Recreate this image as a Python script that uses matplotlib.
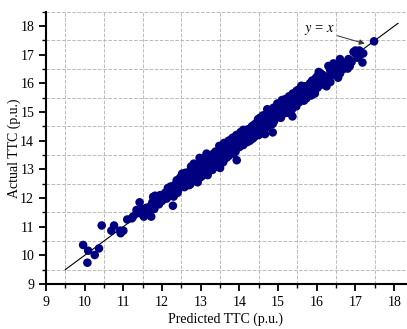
import numpy as np
import matplotlib.pyplot as plt
from matplotlib.ticker import MultipleLocator

plt.rcParams['font.family'] = ['Liberation Serif', 'DejaVu Serif']
plt.rcParams['mathtext.fontset'] = 'stix'

# predicted / actual TTC (p.u.)
pred = [9.96, 10.09, 10.07, 10.26, 10.37, 10.44, 10.69, 10.76, 10.92, 10.93, 11.0,
        11.22, 11.34, 11.42, 11.34, 11.53, 11.72, 11.77, 12.28, 12.97, 13.93, 14.66,
        14.86, 15.37, 17.18, 17.48, 17.0, 16.8, 16.55, 16.3,
        11.1, 11.25, 11.4, 11.45, 11.5, 11.55, 11.6, 11.65, 11.7, 11.75, 11.8, 11.82,
        11.88, 11.92, 11.95, 12.0, 12.02, 12.08, 12.12, 12.15, 12.2, 12.22, 12.25,
        12.3, 12.32, 12.35, 12.38, 12.42, 12.45, 12.48, 12.5, 12.52, 12.55, 12.58, 12.6,
        12.62, 12.65, 12.68, 12.7, 12.72, 12.75, 12.78, 12.8, 12.82, 12.85, 12.88,
        12.9, 12.92, 12.95, 12.98, 13.0, 13.02, 13.05, 13.08, 13.1, 13.12, 13.15,
        13.18, 13.2, 13.22, 13.25, 13.28, 13.3, 13.32, 13.35, 13.38, 13.4, 13.42,
        13.45, 13.48, 13.5, 13.52, 13.55, 13.58, 13.6, 13.62, 13.65, 13.68, 13.7,
        13.72, 13.75, 13.78, 13.8, 13.82, 13.85, 13.88, 13.9, 13.92, 13.95, 13.98,
        14.0, 14.02, 14.05, 14.08, 14.1, 14.12, 14.15, 14.18, 14.2, 14.22, 14.25,
        14.28, 14.3, 14.32, 14.35, 14.38, 14.4, 14.42, 14.45, 14.48, 14.5, 14.52,
        14.55, 14.58, 14.6, 14.62, 14.65, 14.68, 14.7, 14.72, 14.75, 14.78, 14.8,
        14.82, 14.85, 14.88, 14.9, 14.92, 14.95, 14.98, 15.0, 15.02, 15.05, 15.08,
        15.1, 15.12, 15.15, 15.18, 15.2, 15.22, 15.25, 15.28, 15.3, 15.32, 15.35,
        15.38, 15.4, 15.42, 15.45, 15.48, 15.5, 15.52, 15.55, 15.58, 15.6, 15.62,
        15.65, 15.7, 15.72, 15.75, 15.8, 15.82, 15.85, 15.88, 15.9, 15.95, 15.98,
        16.0, 16.02, 16.05, 16.08, 16.1, 16.15, 16.18, 16.2, 16.25, 16.3, 16.35,
        16.4, 16.45, 16.5, 16.55, 16.6, 16.62, 16.68, 16.72, 16.78, 16.82, 16.85,
        16.9, 16.95, 17.02, 17.05, 17.1, 17.12, 17.2,
        13.33, 13.47, 13.57, 13.63, 13.77, 13.87, 13.97, 14.07, 14.17, 14.27, 14.37,
        14.47, 14.57, 14.63, 14.77, 14.87, 14.97, 15.07, 15.17, 15.27, 15.37, 15.47,
        15.57, 15.67, 15.77, 15.87,
        12.57, 12.67, 12.77, 12.87, 12.97, 13.07, 13.17, 13.27,
        12.4, 12.6, 12.85, 13.1, 13.35, 13.6, 13.85, 14.1, 14.35, 14.6, 14.85,
        15.1, 15.35, 15.6, 15.85, 16.1, 16.35, 16.6,
        12.47, 12.73, 13.03, 13.23, 13.53, 13.73, 14.03, 14.23, 14.53, 14.73, 15.03,
        15.23, 15.53, 15.73, 16.03, 16.23, 16.43]

actual = [10.36, 10.16, 9.74, 10.01, 10.24, 11.04, 10.86, 11.04, 10.86, 10.77, 10.86,
          11.29, 11.58, 11.85, 11.46, 11.35, 11.35, 12.04, 11.73, 13.40, 13.32, 14.23,
          14.29, 14.85, 16.73, 17.47, 17.15, 16.52, 16.2, 16.61,
          11.25, 11.35, 11.5, 11.62, 11.42, 11.58, 11.66, 11.48, 11.72, 11.85, 11.62, 12.08,
          11.95, 11.78, 12.1, 11.9, 12.05, 12.18, 11.98, 12.35, 12.12, 12.4, 12.22,
          12.05, 12.45, 12.3, 12.62, 12.28, 12.55, 12.42, 12.7, 12.85, 12.5, 12.38, 12.68,
          12.82, 12.58, 12.9, 12.45, 12.75, 13.1, 12.62, 12.95, 13.2, 12.7, 12.85,
          13.05, 12.55, 13.15, 12.88, 13.25, 12.75, 13.0, 13.38, 12.92, 13.12, 13.55,
          12.8, 13.3, 13.05, 13.45, 13.18, 12.98, 13.4, 13.25, 13.62, 13.1, 13.5,
          13.3, 13.82, 13.05, 13.45, 13.6, 13.25, 13.75, 13.5, 13.9, 13.42, 13.65,
          14.0, 13.55, 13.85, 13.6, 14.1, 13.75, 13.95, 13.62, 14.2, 13.85, 14.05,
          13.78, 14.25, 13.95, 14.1, 13.85, 14.3, 14.0, 14.2, 13.95, 14.4, 14.12,
          14.3, 14.05, 14.5, 14.22, 14.45, 14.15, 14.6, 14.3, 14.75, 14.2, 14.55,
          14.4, 14.8, 14.45, 14.68, 14.5, 14.92, 14.55, 15.1, 14.7, 14.85, 14.6,
          15.0, 14.75, 15.15, 14.7, 14.95, 14.82, 15.3, 14.85, 15.1, 14.9, 15.35,
          15.0, 15.2, 14.95, 15.45, 15.1, 15.3, 15.05, 15.55, 15.2, 15.4, 15.1,
          15.65, 15.3, 15.5, 15.25, 15.75, 15.4, 15.6, 15.35, 15.85, 15.5, 15.7,
          15.45, 15.9, 15.55, 15.75, 15.6, 16.0, 15.7, 16.1, 15.8, 15.65, 16.2,
          16.0, 15.85, 16.4, 16.1, 15.95, 16.3, 16.05, 16.2, 15.9, 16.25, 16.45,
          16.3, 16.6, 16.4, 16.55, 16.35, 16.7, 16.5, 16.6, 16.75, 16.85, 16.6,
          16.75, 17.1, 17.05, 16.9, 17.15, 17.0, 17.05,
          13.55, 13.35, 13.72, 13.38, 14.02, 13.7, 14.15, 13.88, 14.35, 14.0, 14.55,
          14.25, 14.65, 14.35, 14.95, 14.62, 15.05, 14.8, 15.25, 15.0, 15.45, 15.2,
          15.65, 15.4, 15.85, 15.6,
          12.78, 12.52, 12.92, 13.05, 12.7, 13.2, 13.0, 13.3,
          12.18, 12.88, 12.6, 13.4, 13.08, 13.92, 13.55, 14.38, 14.08, 14.88, 14.58,
          15.42, 15.08, 15.92, 15.58, 16.35, 16.05, 16.85,
          12.72, 12.48, 13.28, 12.98, 13.8, 13.48, 14.3, 13.98, 14.8, 14.48, 15.3,
          14.98, 15.78, 15.48, 16.28, 15.98, 16.7]

line_ends = [9.5, 18.1]

fig = plt.figure(figsize=(4.07, 3.29), dpi=100)
ax = fig.add_axes([0.113, 0.137, 0.884, 0.827])

ax.plot(line_ends, line_ends, color='black', lw=0.8, zorder=2)
ax.scatter(pred, actual, s=38, color='#000080', edgecolors='none', zorder=3)

ax.annotate('$y$ = $x$', xy=(17.24, 17.39), xytext=(16.06, 17.85),
            ha='center', va='center', fontsize=10.5,
            arrowprops=dict(arrowstyle='-|>', color='#333333', lw=0.7,
                            mutation_scale=8, shrinkA=0, shrinkB=0))

ax.set_xlim(9, 18.3)
ax.set_ylim(9, 18.5)
ax.xaxis.set_major_locator(MultipleLocator(1))
ax.xaxis.set_minor_locator(MultipleLocator(0.5))
ax.yaxis.set_major_locator(MultipleLocator(1))
ax.yaxis.set_minor_locator(MultipleLocator(0.5))
ax.grid(True, which='minor', color='#bbbbbb', ls='--', lw=0.7, zorder=0)
ax.grid(False, which='major')
ax.set_axisbelow(True)

for s in ['top', 'right']:
    ax.spines[s].set_visible(False)
for s in ['left', 'bottom']:
    ax.spines[s].set_linewidth(1.5)
ax.tick_params(which='major', direction='out', length=5, width=1.3, labelsize=10)
ax.tick_params(which='minor', direction='out', length=3, width=1.0)

ax.set_xlabel('Predicted TTC (p.u.)', fontsize=10, va='center')
ax.set_ylabel('Actual TTC (p.u.)', fontsize=10, va='center')
ax.xaxis.set_label_coords(0.5, -0.13)
ax.yaxis.set_label_coords(-0.088, 0.5)

fig.savefig('out.png', dpi=100)
